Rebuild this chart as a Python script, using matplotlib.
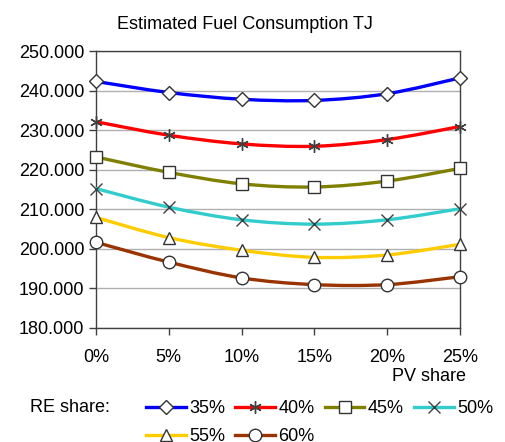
import numpy as np
import matplotlib.pyplot as plt
from matplotlib.path import Path
from matplotlib.patches import PathPatch
from matplotlib.lines import Line2D

plt.rcParams['font.family'] = ['Liberation Sans', 'DejaVu Sans']

pv_share = ['0%', '5%', '10%', '15%', '20%', '25%']
re_share = ['35%', '40%', '45%', '50%', '55%', '60%']

fuel_35 = [242.3, 239.5, 237.8, 237.5, 239.2, 243.2]
fuel_40 = [232.1, 228.7, 226.5, 225.9, 227.6, 230.9]
fuel_45 = [223.2, 219.3, 216.4, 215.6, 217.1, 220.3]
fuel_50 = [215.2, 210.5, 207.3, 206.2, 207.3, 210.1]
fuel_55 = [207.9, 202.8, 199.6, 197.8, 198.4, 201.1]
fuel_60 = [201.6, 196.6, 192.6, 190.9, 190.9, 192.9]

series = [fuel_35, fuel_40, fuel_45, fuel_50, fuel_55, fuel_60]
colors = ['#0000ff', '#ff0000', '#808000', '#33cccc', '#ffcc00', '#993300']
markers = ['D', (6, 2, 0), 's', 'x', '^', 'o']
msizes = [7, 9, 9, 8, 9, 9]


def smooth_path(x, y, t=1/6):
    # Bezier segments through every point, like a spreadsheet smoothed line
    x = np.asarray(x, float)
    y = np.asarray(y, float)
    n = len(x)
    verts = [(x[0], y[0])]
    codes = [Path.MOVETO]
    for i in range(n - 1):
        p0 = i - 1 if i > 0 else i
        p3 = i + 2 if i + 2 < n else i + 1
        c1 = (x[i] + (x[i + 1] - x[p0]) * t, y[i] + (y[i + 1] - y[p0]) * t)
        c2 = (x[i + 1] - (x[p3] - x[i]) * t, y[i + 1] - (y[p3] - y[i]) * t)
        verts += [c1, c2, (x[i + 1], y[i + 1])]
        codes += [Path.CURVE4] * 3
    return Path(verts, codes)


fig = plt.figure(figsize=(5.05, 4.42), dpi=100)
ax = fig.add_axes([0.190, 0.2586, 0.721, 0.626])

xs = np.arange(len(pv_share))
handles = []
for vals, c, m, ms in zip(series, colors, markers, msizes):
    patch = PathPatch(smooth_path(xs, vals), facecolor='none', edgecolor=c,
                      lw=2.4, zorder=3, capstyle='round')
    ax.add_patch(patch)
    filled = m not in ('x', (6, 2, 0))
    style = dict(marker=m, markersize=ms,
                 markerfacecolor='white' if filled else 'none',
                 markeredgecolor='#333333' if filled else '#404040',
                 markeredgewidth=1.0)
    ax.plot(xs, vals, linestyle='none', zorder=4, clip_on=False, **style)
    handles.append(Line2D([], [], color=c, lw=2.4, **style))

ax.set_xlim(0, 5)
ax.set_ylim(180, 250)
ax.set_xticks(xs)
ax.set_xticklabels(pv_share)
ax.set_yticks(np.arange(180, 251, 10))
ax.set_yticklabels([f'{v:.3f}' for v in np.arange(180, 251, 10)])
ax.yaxis.grid(True, color='#b0b0b0', lw=1)
ax.set_axisbelow(True)
for s in ax.spines.values():
    s.set_color('#404040')
    s.set_linewidth(1)
ax.tick_params(axis='both', labelsize=13, color='#404040', length=5,
               width=1, direction='out')
ax.tick_params(axis='x', pad=10)

fig.text(0.485, 0.945, 'Estimated Fuel Consumption TJ', ha='center',
         va='center', fontsize=13)
fig.text(0.922, 0.148, 'PV share', ha='right', va='center', fontsize=13)
fig.text(0.06, 0.077, 'RE share:', ha='left', va='center', fontsize=13)

# legend fills column by column, so order entries to read across rows
order = [0, 4, 1, 5, 2, 3]
fig.legend([handles[i] for i in order], [re_share[i] for i in order],
           ncol=4, loc='upper left', bbox_to_anchor=(0.289, 0.094),
           frameon=False, fontsize=13, handlelength=2.2, handletextpad=0.2,
           columnspacing=0.55, labelspacing=0.6, borderpad=0,
           borderaxespad=0)

fig.savefig('out.png', dpi=100)
